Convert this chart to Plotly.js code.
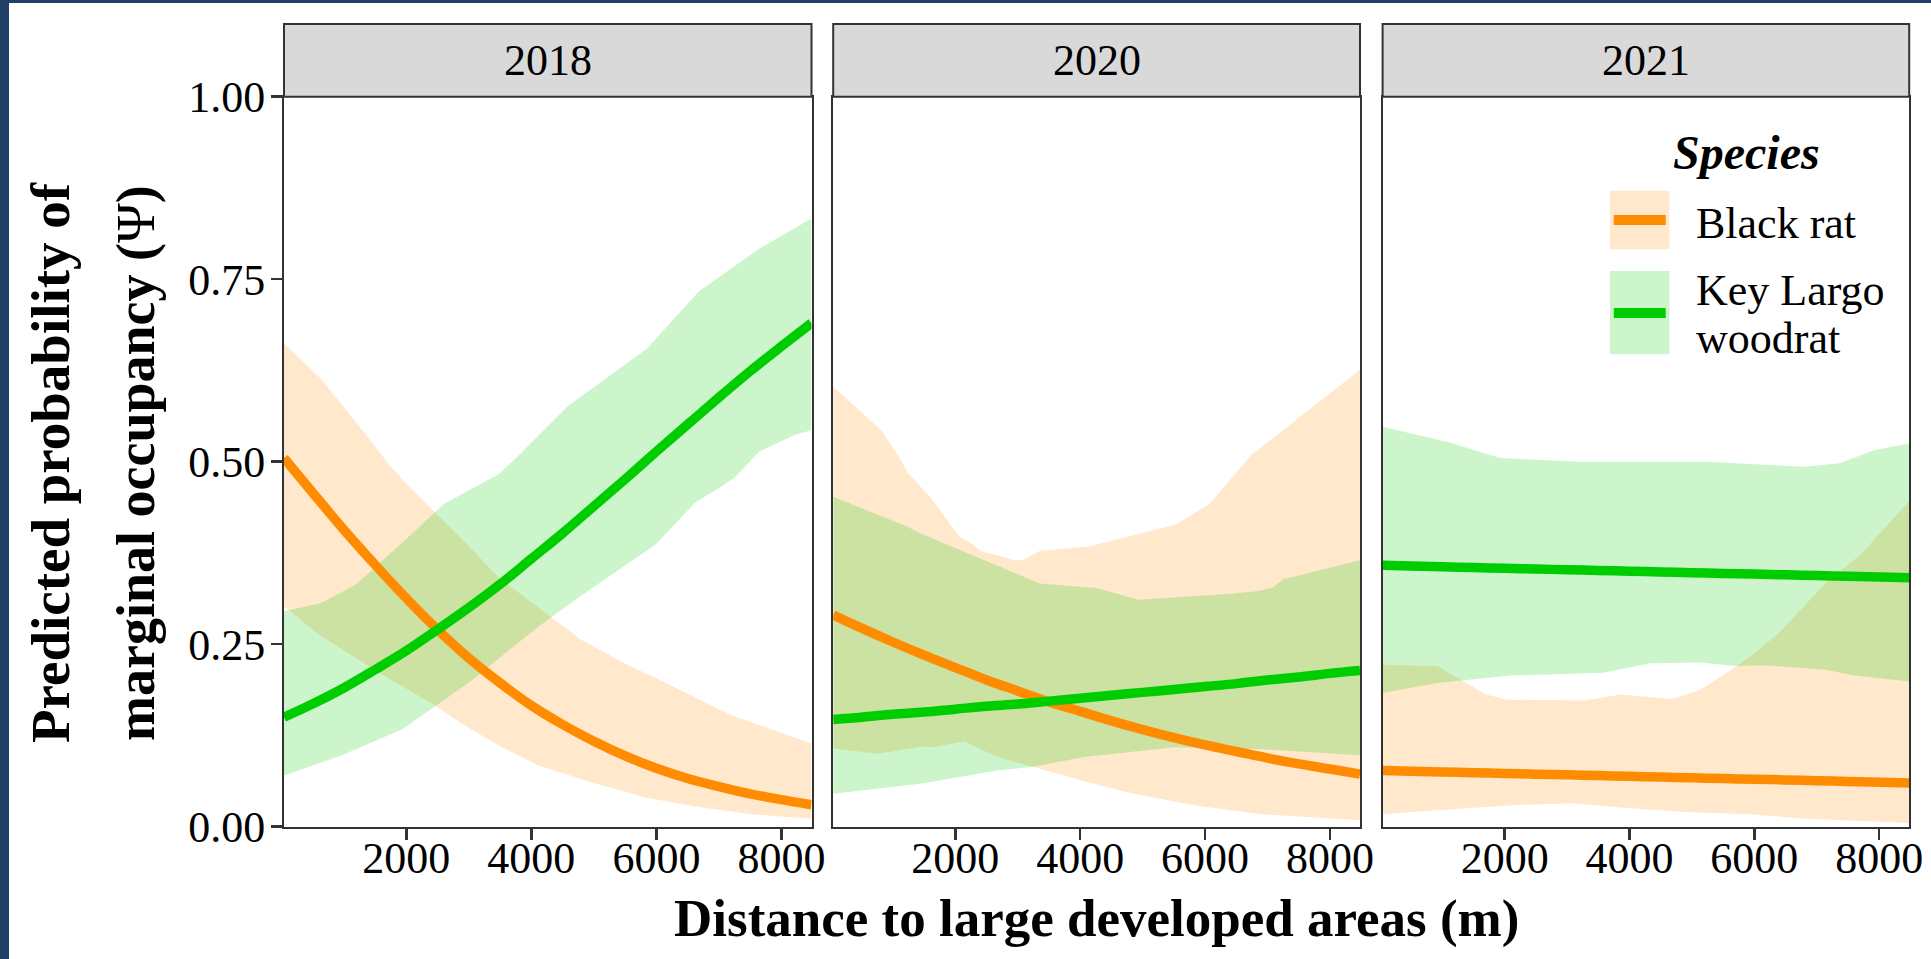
<!DOCTYPE html>
<html>
<head>
<meta charset="utf-8">
<script src="https://cdn.plot.ly/plotly-3.0.1.min.js"></script>
<style>
html,body{margin:0;padding:0;background:#ffffff;overflow:hidden;}
#chart{width:1931px;height:959px;}
</style>
</head>
<body>
<div id="chart"></div>
<script>
// ---------------- DATA ----------------
const years = ["2018", "2020", "2021"];
const species = ["Black rat", "Key Largo woodrat"];
const xTicks = [2000, 4000, 6000, 8000];
const yTicks = [0, 0.25, 0.5, 0.75, 1.0];

// fitted lines (distance in m)
const lineX = [45, 500, 1000, 1500, 2000, 2500, 3000, 3500, 4000, 4500, 5000, 5500, 6000, 6500, 7000, 7500, 8000, 8480];
const blackRat2018 = [0.505,0.458,0.407,0.359,0.313,0.270,0.231,0.197,0.166,0.140,0.117,0.097,0.080,0.066,0.055,0.045,0.037,0.030];
const woodrat2018  = [0.150,0.168,0.190,0.215,0.241,0.270,0.300,0.332,0.367,0.402,0.439,0.476,0.514,0.551,0.588,0.624,0.658,0.690];
const blackRat2020 = [0.290,0.272,0.253,0.235,0.218,0.201,0.186,0.171,0.158,0.145,0.133,0.122,0.112,0.103,0.094,0.086,0.079,0.072];
const woodrat2020  = [0.147,0.150,0.154,0.157,0.161,0.165,0.168,0.172,0.176,0.180,0.184,0.188,0.192,0.196,0.201,0.205,0.210,0.214];
const blackRat2021 = [0.077,0.076,0.075,0.074,0.073,0.072,0.071,0.070,0.069,0.068,0.067,0.066,0.065,0.064,0.063,0.062,0.061,0.060];
const woodrat2021  = [0.358,0.357,0.356,0.355,0.354,0.353,0.352,0.351,0.350,0.349,0.348,0.347,0.346,0.345,0.344,0.343,0.342,0.341];

// confidence ribbons: upper / lower bounds
const blackRat2018UpX = [45, 631, 1316, 1772, 2057, 2970, 3483, 4110, 4795, 5536, 6106, 7190, 8480];
const blackRat2018Up  = [0.662,0.614,0.541,0.491,0.465,0.387,0.341,0.300,0.256,0.222,0.199,0.153,0.114];
const blackRat2018LoX = [45, 574, 1544, 2399, 2970, 3483, 4110, 4966, 5821, 6677, 7532, 8480];
const blackRat2018Lo  = [0.302,0.265,0.212,0.169,0.137,0.111,0.084,0.061,0.040,0.027,0.017,0.011];
const woodrat2018UpX = [45, 631, 1202, 2000, 2599, 3483, 3825, 4566, 5850, 6676, 7646, 8480];
const woodrat2018Up  = [0.295,0.306,0.332,0.394,0.442,0.483,0.511,0.575,0.655,0.733,0.792,0.833];
const woodrat2018LoX = [45, 973, 1943, 3026, 4110, 4737, 5992, 6620, 7019, 7247, 7646, 8216, 8480];
const woodrat2018Lo  = [0.070,0.098,0.134,0.199,0.274,0.313,0.387,0.444,0.465,0.478,0.514,0.537,0.543];

const blackRat2020UpX = [45, 813, 1068, 1237, 1605, 2057, 2282, 2395, 2960, 3102, 3356, 4147, 5531, 6068, 6746, 7085, 8480];
const blackRat2020Up  = [0.603,0.543,0.511,0.485,0.451,0.398,0.387,0.378,0.365,0.366,0.378,0.384,0.414,0.442,0.510,0.532,0.626];
const blackRat2020LoX = [45, 757, 1492, 1661, 2141, 2678, 3243, 4034, 4769, 5842, 6915, 8480];
const blackRat2020Lo  = [0.107,0.100,0.110,0.109,0.117,0.095,0.082,0.063,0.047,0.029,0.017,0.009];
const woodrat2020UpX = [45, 1209, 1492, 3356, 4260, 4938, 6407, 6859, 7085, 7255, 8480];
const woodrat2020Up  = [0.452,0.412,0.400,0.333,0.327,0.311,0.319,0.323,0.328,0.339,0.365];
const woodrat2020LoX = [45, 1435, 2678, 3243, 4034, 5503, 6915, 8480];
const woodrat2020Lo  = [0.045,0.059,0.077,0.082,0.095,0.109,0.106,0.098];

const blackRat2021UpX = [45, 918, 1282, 1703, 2039, 3273, 3862, 4675, 5123, 5684, 5992, 6413, 7142, 7703, 8480];
const blackRat2021Up  = [0.222,0.220,0.202,0.181,0.174,0.173,0.181,0.175,0.187,0.218,0.237,0.267,0.334,0.373,0.446];
const blackRat2021LoX = [45, 974, 2264, 3105, 3890, 4899, 5908, 6861, 8480];
const blackRat2021Lo  = [0.017,0.023,0.030,0.032,0.026,0.020,0.017,0.011,0.005];
const woodrat2021UpX = [45, 1086, 1927, 3217, 5235, 6805, 7366, 7927, 8480];
const woodrat2021Up  = [0.548,0.527,0.505,0.500,0.500,0.493,0.498,0.516,0.525];
const woodrat2021LoX = [45, 918, 2095, 3581, 4338, 5123, 5684, 6188, 7142, 7590, 8480];
const woodrat2021Lo  = [0.183,0.197,0.207,0.211,0.224,0.225,0.220,0.221,0.215,0.207,0.199];

// ---------------- STYLE ----------------
const W = 1931, H = 959;
const FONT = "Liberation Serif, 'Times New Roman', serif";
const ORANGE = "#FF8C00", GREEN = "#00CD00";
const ORANGE_FILL = "rgba(255,140,0,0.2)", GREEN_FILL = "rgba(0,205,0,0.2)";
const AXC = "#333333";
const px = v => v / W;
const py = v => 1 - v / H;
const panelsPx = [[284, 811.5], [833.2, 1360], [1382.6, 1909.2]];
const panelTop = 96.7, panelBot = 826.7, stripTop = 24;

const panelData = [
  {line:[blackRat2018, woodrat2018], rib:[[blackRat2018UpX,blackRat2018Up,blackRat2018LoX,blackRat2018Lo],[woodrat2018UpX,woodrat2018Up,woodrat2018LoX,woodrat2018Lo]]},
  {line:[blackRat2020, woodrat2020], rib:[[blackRat2020UpX,blackRat2020Up,blackRat2020LoX,blackRat2020Lo],[woodrat2020UpX,woodrat2020Up,woodrat2020LoX,woodrat2020Lo]]},
  {line:[blackRat2021, woodrat2021], rib:[[blackRat2021UpX,blackRat2021Up,blackRat2021LoX,blackRat2021Lo],[woodrat2021UpX,woodrat2021Up,woodrat2021LoX,woodrat2021Lo]]}
];
const fills = [ORANGE_FILL, GREEN_FILL];
const cols = [ORANGE, GREEN];

const traces = [];
panelData.forEach((p, i) => {
  const xa = i === 0 ? "x" : "x" + (i + 1);
  const ya = i === 0 ? "y" : "y" + (i + 1);
  p.rib.forEach((r, s) => {
    const [ux, uy, lx, ly] = r;
    traces.push({
      type: "scatter", mode: "lines", xaxis: xa, yaxis: ya,
      x: ux.concat(lx.slice().reverse()),
      y: uy.concat(ly.slice().reverse()),
      fill: "toself", fillcolor: fills[s], line: {width: 0, color: fills[s]},
      hoverinfo: "skip", name: species[s], showlegend: false
    });
  });
  p.line.forEach((vals, s) => {
    traces.push({
      type: "scatter", mode: "lines", xaxis: xa, yaxis: ya,
      x: lineX, y: vals, line: {color: cols[s], width: 9.5, shape: "spline"},
      name: species[s], showlegend: false
    });
  });
});

const tickFont = {family: FONT, size: 44, color: "#000000"};
function xAxis(i) {
  return {
    domain: [px(panelsPx[i][0]), px(panelsPx[i][1])],
    range: [45, 8480], anchor: i === 0 ? "y" : "y" + (i + 1),
    tickvals: xTicks, ticktext: xTicks.map(String),
    ticks: "outside", ticklen: 11, tickwidth: 2.5, tickcolor: AXC,
    ticklabelstandoff: -20,
    showline: true, mirror: true, linecolor: AXC, linewidth: 2,
    showgrid: false, zeroline: false, tickfont: tickFont, fixedrange: true
  };
}
function yAxis(i) {
  return {
    domain: [py(panelBot), py(panelTop)],
    range: [0, 1], anchor: i === 0 ? "x" : "x" + (i + 1),
    tickvals: yTicks, ticktext: yTicks.map(v => v.toFixed(2)),
    ticks: i === 0 ? "outside" : "", ticklen: 11, tickwidth: 2.5, tickcolor: AXC,
    ticklabelstandoff: -3,
    showticklabels: i === 0,
    showline: true, mirror: true, linecolor: AXC, linewidth: 2,
    showgrid: false, zeroline: false, tickfont: tickFont, fixedrange: true
  };
}

const shapes = [
  {type: "rect", xref: "paper", yref: "paper", x0: 0, x1: px(9), y0: 0, y1: 1, fillcolor: "#1e4069", line: {width: 0}, layer: "below"},
  {type: "rect", xref: "paper", yref: "paper", x0: 0, x1: 1, y0: py(3), y1: 1, fillcolor: "#1e4069", line: {width: 0}, layer: "below"}
];
const annotations = [];
panelsPx.forEach((p, i) => {
  shapes.push({type: "rect", xref: "paper", yref: "paper", x0: px(p[0]), x1: px(p[1]), y0: py(panelTop), y1: py(stripTop),
    fillcolor: "#D9D9D9", line: {color: AXC, width: 2}});
  annotations.push({xref: "paper", yref: "paper", x: px((p[0] + p[1]) / 2), y: py((panelTop + stripTop) / 2),
    text: years[i], showarrow: false, xanchor: "center", yanchor: "middle", font: {family: FONT, size: 44, color: "#000"}});
});

// legend (drawn inside the 2021 panel)
shapes.push({type: "rect", xref: "paper", yref: "paper", x0: px(1610), x1: px(1669.5), y0: py(249.3), y1: py(190.7), fillcolor: ORANGE_FILL, line: {width: 0}});
shapes.push({type: "line", xref: "paper", yref: "paper", x0: px(1613.8), x1: px(1665.7), y0: py(220), y1: py(220), line: {color: ORANGE, width: 10}});
shapes.push({type: "rect", xref: "paper", yref: "paper", x0: px(1610), x1: px(1669.5), y0: py(354.3), y1: py(271), fillcolor: GREEN_FILL, line: {width: 0}});
shapes.push({type: "line", xref: "paper", yref: "paper", x0: px(1613.8), x1: px(1665.7), y0: py(313), y1: py(313), line: {color: GREEN, width: 10}});
annotations.push({xref: "paper", yref: "paper", x: px(1671), y: py(152), text: "<b><i>Species</i></b>", showarrow: false,
  xanchor: "left", yanchor: "middle", font: {family: FONT, size: 48, color: "#000"}});
annotations.push({xref: "paper", yref: "paper", x: px(1694), y: py(223), text: species[0], showarrow: false,
  xanchor: "left", yanchor: "middle", font: {family: FONT, size: 44, color: "#000"}});
annotations.push({xref: "paper", yref: "paper", x: px(1694), y: py(291), text: "Key Largo", showarrow: false,
  xanchor: "left", yanchor: "middle", font: {family: FONT, size: 44, color: "#000"}});
annotations.push({xref: "paper", yref: "paper", x: px(1694), y: py(338), text: "woodrat", showarrow: false,
  xanchor: "left", yanchor: "middle", font: {family: FONT, size: 44, color: "#000"}});

// axis titles
annotations.push({xref: "paper", yref: "paper", x: px(1096.5), y: py(918), text: "<b>Distance to large developed areas (m)</b>",
  showarrow: false, xanchor: "center", yanchor: "middle", font: {family: FONT, size: 53, color: "#000"}});
annotations.push({xref: "paper", yref: "paper", x: px(51), y: py(463), text: "<b>Predicted probability of</b>", textangle: -90,
  showarrow: false, xanchor: "center", yanchor: "middle", font: {family: FONT, size: 55, color: "#000"}});
annotations.push({xref: "paper", yref: "paper", x: px(136), y: py(463), text: "<b>marginal occupancy (</b>\u03A8<b>)</b>", textangle: -90,
  showarrow: false, xanchor: "center", yanchor: "middle", font: {family: FONT, size: 54, color: "#000"}});

const layout = {
  width: W, height: H, autosize: false,
  margin: {l: 0, r: 0, t: 0, b: 0, pad: 0},
  paper_bgcolor: "#ffffff", plot_bgcolor: "#ffffff",
  showlegend: false, hovermode: false,
  xaxis: xAxis(0), xaxis2: xAxis(1), xaxis3: xAxis(2),
  yaxis: yAxis(0), yaxis2: yAxis(1), yaxis3: yAxis(2),
  shapes: shapes, annotations: annotations,
  font: {family: FONT, color: "#000"}
};

Plotly.newPlot("chart", traces, layout, {displayModeBar: false, staticPlot: true});
</script>
</body>
</html>
